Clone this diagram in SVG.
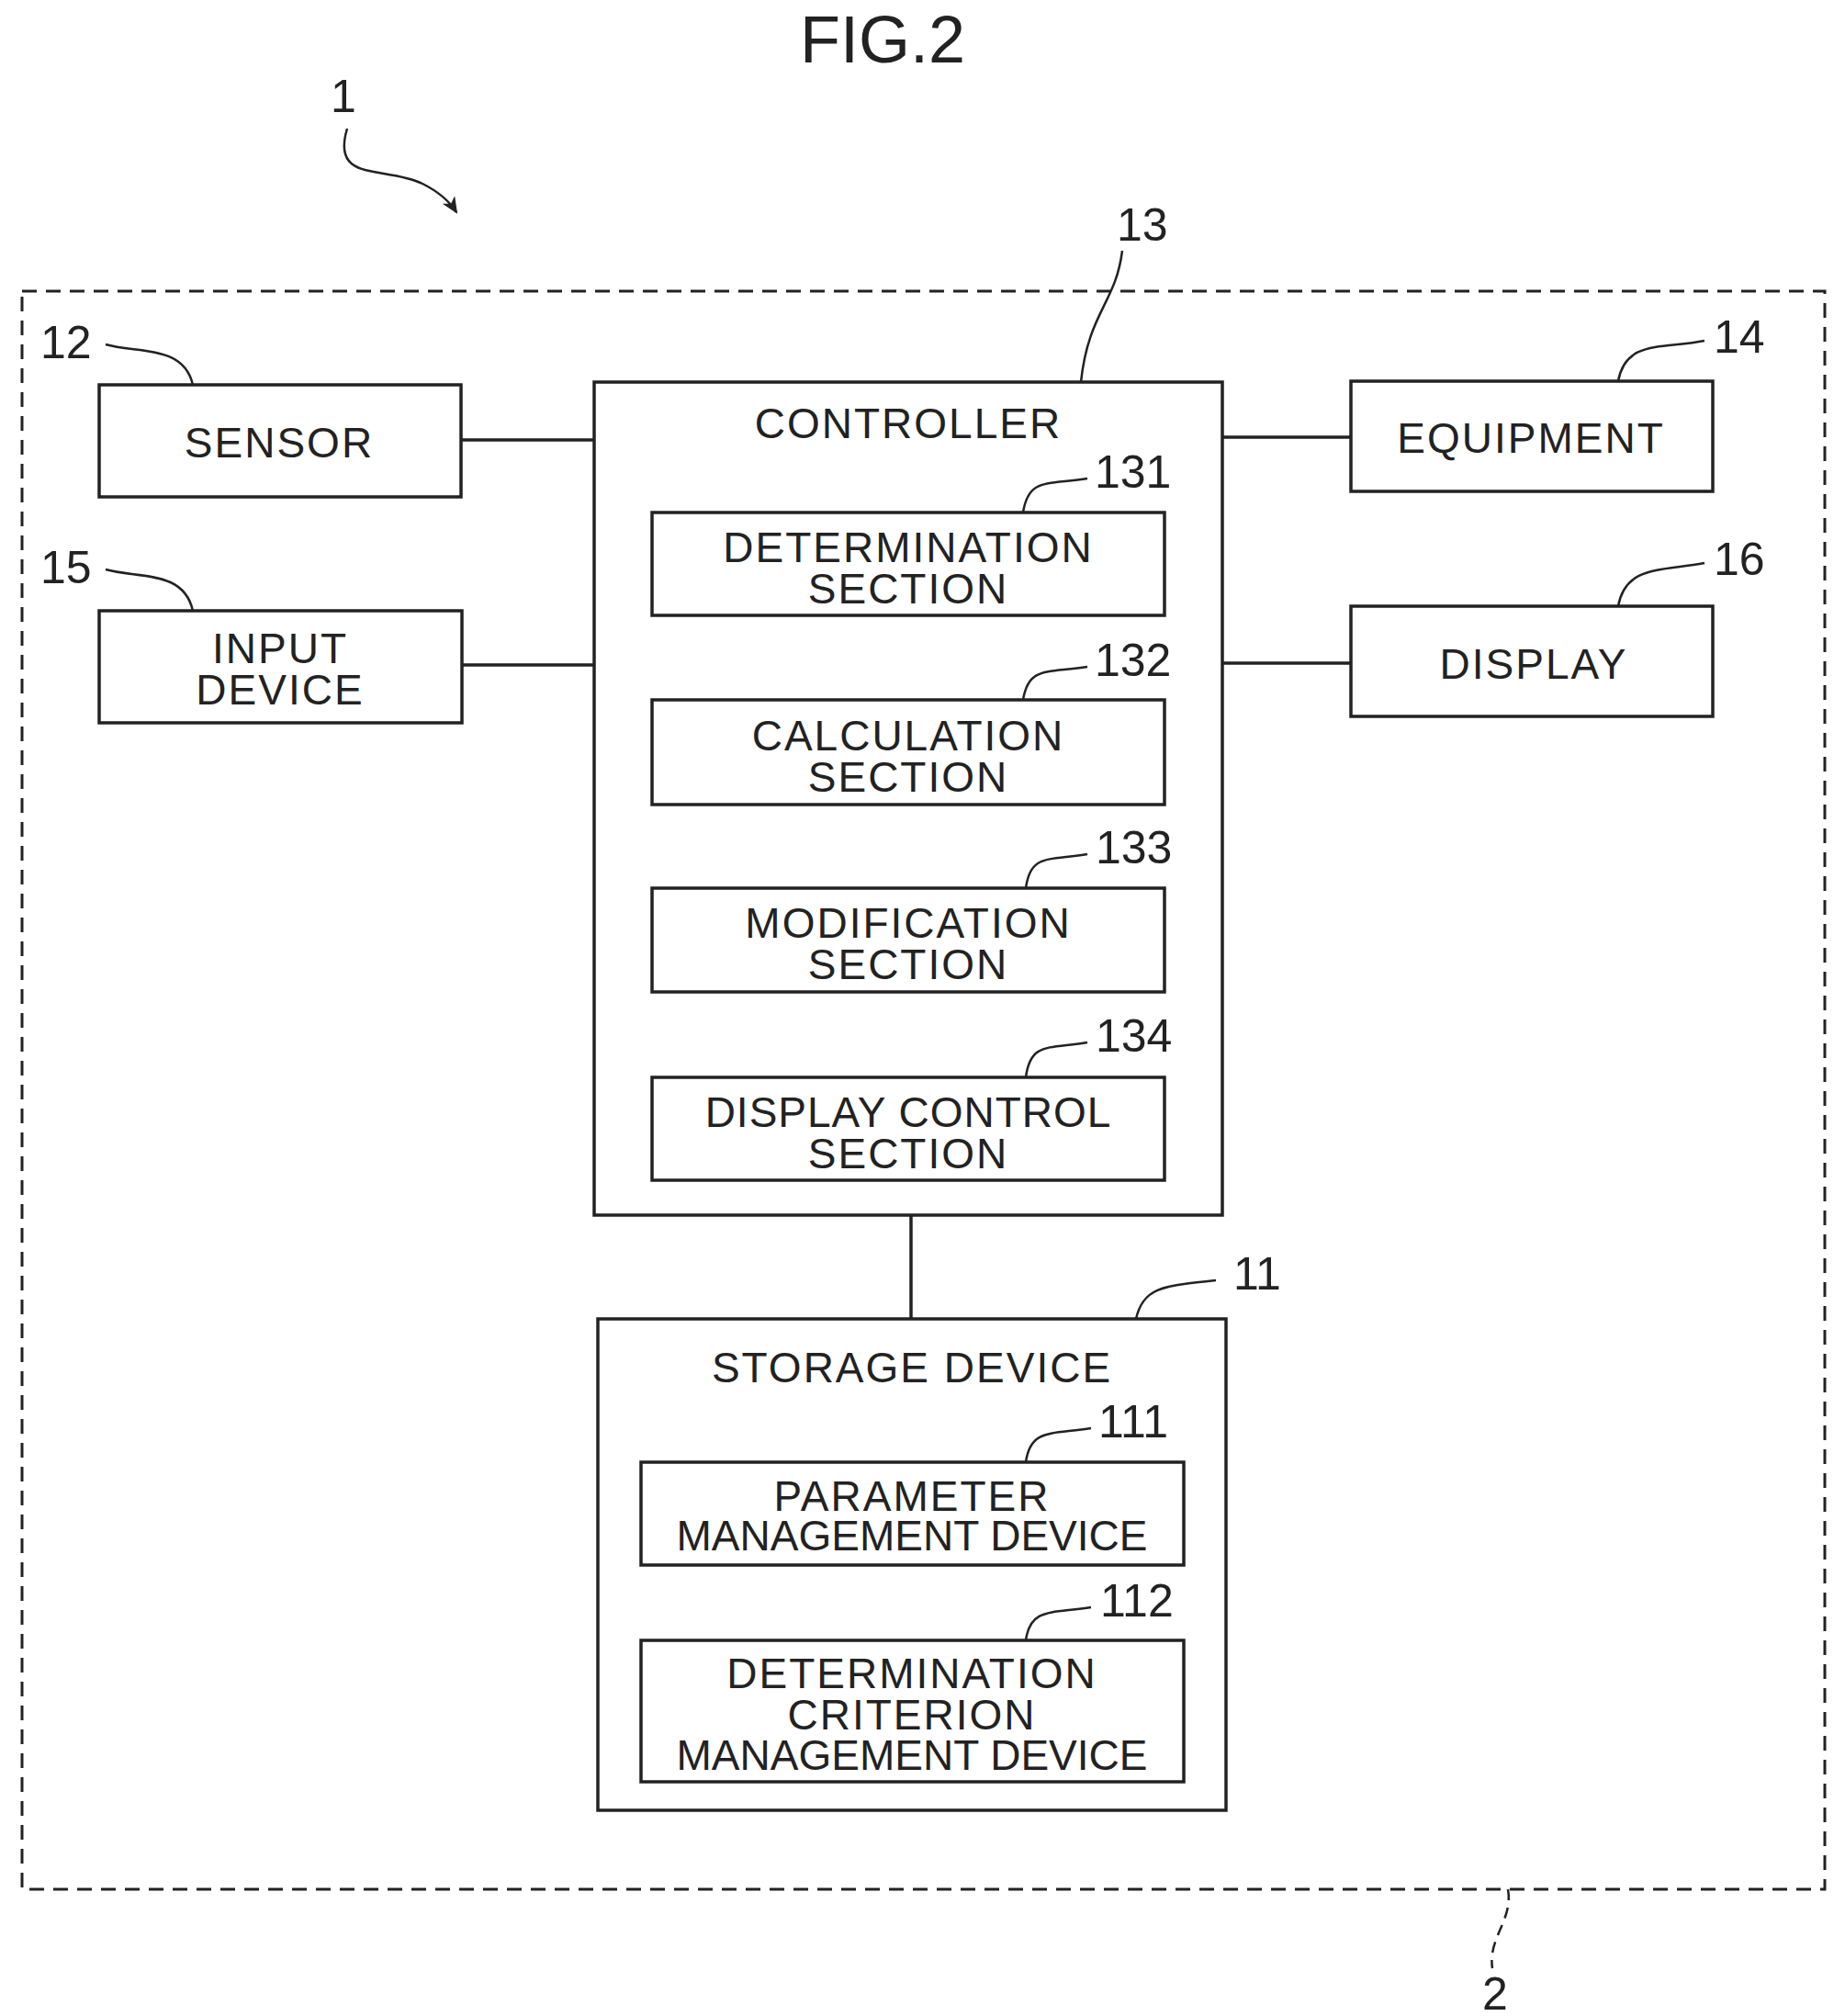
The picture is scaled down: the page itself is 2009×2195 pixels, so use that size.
<svg xmlns="http://www.w3.org/2000/svg" width="2009" height="2195" viewBox="0 0 2009 2195">
<style>
.b{fill:none;stroke:#222;stroke-width:3.5}
.l{fill:none;stroke:#222;stroke-width:2.5}
text{font-family:"Liberation Sans",Arial,sans-serif;fill:#222;text-anchor:middle;font-size:46px;letter-spacing:2px}
.n{font-size:50px;text-anchor:start;letter-spacing:0}
</style>
<defs><marker id="ah" markerWidth="20" markerHeight="20" refX="16" refY="8" orient="auto" markerUnits="userSpaceOnUse"><path d="M0,0 L18,8 L0,16 L5,8 Z" fill="#222"/></marker></defs>
<rect width="2009" height="2195" fill="#fff"/>
<text x="961" y="68" style="font-size:72px;letter-spacing:0">FIG.2</text>
<g id="label1"><text class="n" x="360" y="122">1</text>
<path class="l" d="M378,140 C360,200 420,180 460,200 C480,210 490,220 497,231" marker-end="url(#ah)"/></g>
<g id="system2"><rect x="24" y="317" width="1963" height="1740" fill="none" stroke="#222" stroke-width="3" stroke-dasharray="16,10"/>
<path class="l" d="M1642,2057 C1648,2090 1620,2110 1625,2143" stroke-dasharray="12,8"/><text class="n" x="1614" y="2188">2</text></g>
<g id="connectors">
<line class="b" x1="502" y1="479" x2="647" y2="479"/>
<line class="b" x1="503" y1="724" x2="647" y2="724"/>
<line class="b" x1="1331" y1="476" x2="1471" y2="476"/>
<line class="b" x1="1331" y1="722" x2="1471" y2="722"/>
<line class="b" x1="992" y1="1323" x2="992" y2="1436"/>
</g>
<g id="sensor"><rect class="b" x="108" y="419" width="394" height="122"/><text x="304" y="498">SENSOR</text>
<text class="n" x="44" y="390">12</text><path class="l" d="M115,375 C150,385 200,375 210,419"/></g>
<g id="input"><rect class="b" x="108" y="665" width="395" height="122"/><text x="305" y="722">INPUT</text><text x="305" y="767">DEVICE</text>
<text class="n" x="44" y="635">15</text><path class="l" d="M115,620 C150,630 200,620 210,665"/></g>
<g id="equipment"><rect class="b" x="1471" y="415" width="394" height="120"/><text x="1667" y="493">EQUIPMENT</text>
<text class="n" x="1866" y="384">14</text><path class="l" d="M1856,371 C1810,380 1770,370 1762,415"/></g>
<g id="display"><rect class="b" x="1471" y="660" width="394" height="120"/><text x="1670" y="739">DISPLAY</text>
<text class="n" x="1866" y="626">16</text><path class="l" d="M1856,613 C1810,622 1770,615 1762,660"/></g>
<g id="controller"><rect class="b" x="647" y="416" width="684" height="907"/><text x="989" y="477">CONTROLLER</text>
<path class="l" d="M1222,273 C1215,330 1185,340 1177,416"/>
<text class="n" x="1216" y="262">13</text></g>
<g id="s131"><rect class="b" x="710" y="558" width="558" height="112"/><text x="989" y="612">DETERMINATION</text><text x="989" y="657">SECTION</text>
<text class="n" x="1192" y="531">131</text><path class="l" d="M1184,521 C1140,528 1120,520 1114,558"/></g>
<g id="s132"><rect class="b" x="710" y="762" width="558" height="114"/><text x="989" y="817">CALCULATION</text><text x="989" y="862">SECTION</text>
<text class="n" x="1192" y="736">132</text><path class="l" d="M1184,726 C1140,733 1120,725 1114,762"/></g>
<g id="s133"><rect class="b" x="710" y="967" width="558" height="113"/><text x="989" y="1021">MODIFICATION</text><text x="989" y="1066">SECTION</text>
<text class="n" x="1193" y="940">133</text><path class="l" d="M1184,930 C1140,937 1122,930 1117,967"/></g>
<g id="s134"><rect class="b" x="710" y="1173" width="558" height="112"/><text x="989" y="1227" style="letter-spacing:1px">DISPLAY CONTROL</text><text x="989" y="1272">SECTION</text>
<text class="n" x="1193" y="1145">134</text><path class="l" d="M1184,1135 C1140,1142 1122,1135 1117,1173"/></g>
<g id="storage"><rect class="b" x="651" y="1436" width="684" height="535"/><text x="993" y="1505">STORAGE DEVICE</text>
<text class="n" x="1343" y="1404">11</text><path class="l" d="M1324,1394 C1270,1400 1245,1400 1237,1436"/></g>
<g id="d111"><rect class="b" x="698" y="1592" width="591" height="112"/><text x="993" y="1645">PARAMETER</text><text x="993" y="1688" style="letter-spacing:0">MANAGEMENT DEVICE</text>
<text class="n" x="1196" y="1565">111</text><path class="l" d="M1188,1555 C1145,1562 1122,1555 1117,1592"/></g>
<g id="d112"><rect class="b" x="698" y="1786" width="591" height="154"/><text x="993" y="1838">DETERMINATION</text><text x="993" y="1883">CRITERION</text><text x="993" y="1927" style="letter-spacing:0">MANAGEMENT DEVICE</text>
<text class="n" x="1198" y="1760">112</text><path class="l" d="M1188,1750 C1145,1757 1122,1750 1117,1786"/></g>
</svg>
